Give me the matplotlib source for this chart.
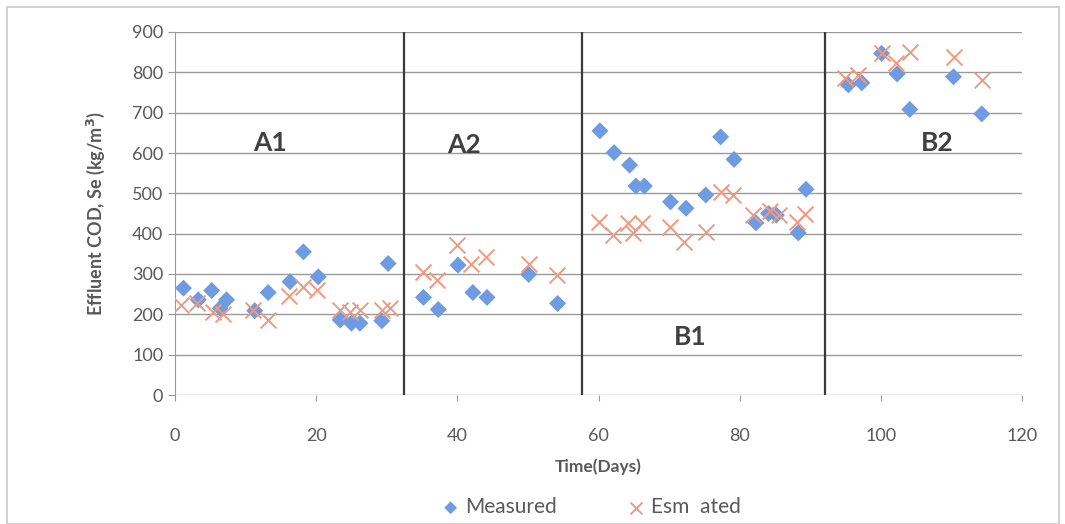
import matplotlib
matplotlib.use("Agg")
import matplotlib.pyplot as plt
from matplotlib.patches import Rectangle

plt.rcParams["font.family"] = ["Lato", "DejaVu Sans"]

# Measured effluent COD
meas_day = [1.2, 3.3, 5.2, 6.4, 7.3, 11.3, 13.2, 16.3, 18.2, 20.3, 23.4, 25.0, 26.2, 29.3, 30.2,
            35.2, 37.3, 40.1, 42.2, 44.2, 50.1, 54.2,
            60.2, 62.2, 64.4, 65.3, 66.5, 70.2, 72.4, 75.2, 77.3, 79.2, 82.3, 84.1, 85.2, 88.3, 89.4,
            95.4, 97.3, 100.1, 102.3, 104.1, 110.3, 114.3]
meas_val = [265, 236, 259, 215, 236, 209, 254, 281, 355, 293, 186, 178, 178, 184, 326,
            242, 212, 322, 254, 242, 299, 227,
            655, 601, 570, 518, 518, 479, 463, 496, 640, 584, 427, 450, 446, 402, 510,
            769, 774, 847, 796, 708, 789, 697]

# Estimated effluent COD
est_day = [0.9, 3.1, 5.4, 6.8, 11.1, 13.2, 16.1, 18.2, 20.1, 23.4, 24.8, 26.2, 29.3, 30.5,
           35.2, 37.1, 40.0, 42.0, 44.1, 50.1, 54.1,
           60.0, 62.1, 64.2, 64.9, 66.1, 70.1, 72.1, 75.2, 77.3, 79.1, 81.9, 84.3, 85.6, 88.1, 89.3,
           94.9, 96.8, 100.1, 102.2, 104.2, 110.3, 114.3]
est_val = [223, 227, 207, 202, 211, 186, 245, 269, 260, 211, 207, 211, 211, 215,
           306, 285, 372, 326, 343, 326, 298,
           430, 397, 426, 401, 426, 417, 380, 405, 504, 496, 446, 455, 446, 430, 450,
           785, 793, 847, 822, 851, 839, 781]

# phase boundaries and labels
phase_bounds = [32.4, 57.7, 92.1]
phase_names = ["A1", "A2", "B1", "B2"]
phase_label_x = [13.5, 41, 73, 108]
phase_label_y = [625, 620, 145, 625]

fig = plt.figure(figsize=(10.65, 5.24), dpi=100)
ax = fig.add_axes([175 / 1065, 1 - 395 / 524, 847 / 1065, 363 / 524])

grey = "#595959"
ax.scatter(meas_day, meas_val, marker="D", s=75, color="#6F9BE3", edgecolors="none",
           zorder=3, label="Measured")
ax.scatter(est_day, est_val, marker="x", s=130, color="#EE9A80", linewidths=1.4,
           zorder=4, label="Esm  ated")

for b in phase_bounds:
    ax.axvline(b, color="#3A3A3A", lw=1.6, zorder=2)
for name, px, py in zip(phase_names, phase_label_x, phase_label_y):
    ax.text(px, py, name, ha="center", va="center", fontsize=19, fontweight="bold", color="#404040")

ax.set_xlim(0, 120)
ax.set_ylim(0, 900)
ax.set_xticks(range(0, 121, 20))
ax.set_yticks(range(0, 901, 100))
ax.yaxis.grid(True, color="#9A9A9A", lw=1.0)
ax.set_axisbelow(True)
for s in ["top", "right", "bottom"]:
    ax.spines[s].set_visible(False)
ax.spines["left"].set_color("#9A9A9A")
ax.tick_params(axis="both", colors="#9A9A9A", labelcolor=grey, labelsize=13, length=5)
ax.tick_params(axis="x", pad=20, length=4)

ax.set_xlabel("Time(Days)", fontsize=12.5, fontweight="bold", color=grey, labelpad=10)
ax.set_ylabel("Effluent COD, Se (kg/m$^\\mathbf{3}$)", fontsize=13, fontweight="bold",
              color=grey, labelpad=18)

ax.legend(loc="upper center", bbox_to_anchor=(0.488, -0.23), ncol=2, frameon=False,
          fontsize=15, labelcolor=grey, handletextpad=0.0, handlelength=1.4,
          columnspacing=3.1, markerscale=0.75)

fig.patches.append(Rectangle((7 / 1065, 0.0), 1052 / 1065, 1 - 7 / 524, transform=fig.transFigure,
                             fill=False, edgecolor="#C8C8C8", lw=1.2))

fig.savefig("out.png", dpi=100)
